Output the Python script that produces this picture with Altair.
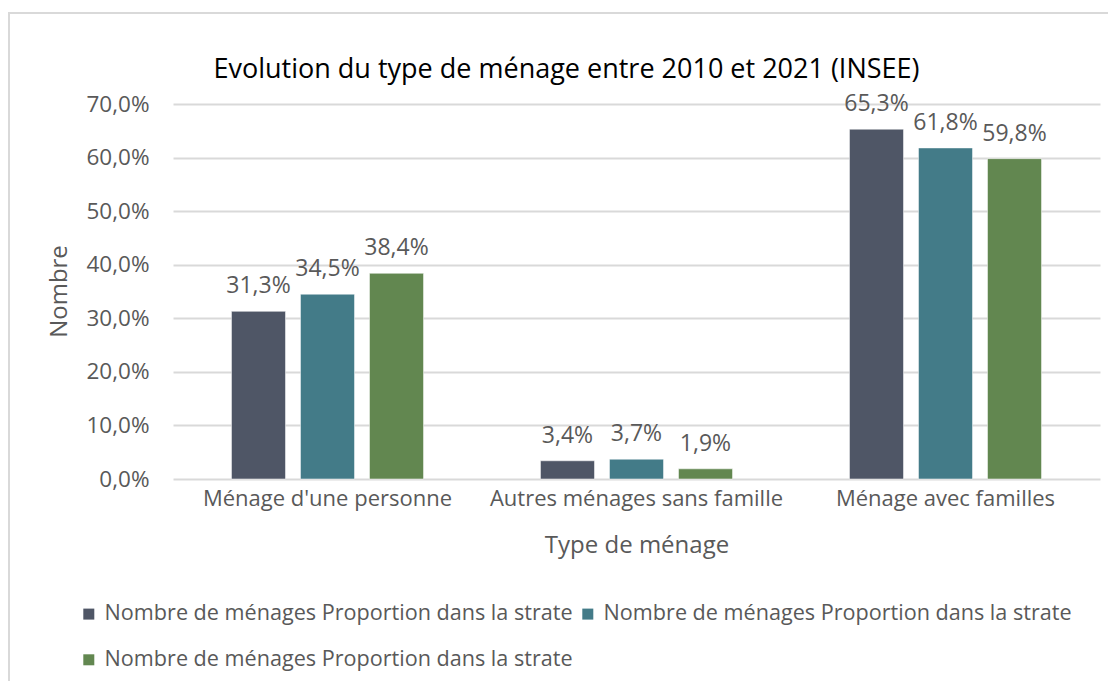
import json
import altair as alt
import pandas as pd

categories = ["Ménage d'une personne", "Autres ménages sans famille", "Ménage avec familles"]
series_ids = ["s1", "s2", "s3"]
series_labels = [
    "Nombre de ménages Proportion dans la strate",
    "Nombre de ménages Proportion dans la strate",
    "Nombre de ménages Proportion dans la strate",
]
values_s1 = [0.313, 0.034, 0.653]
values_s2 = [0.345, 0.037, 0.618]
values_s3 = [0.384, 0.019, 0.598]
colors = ["#4f5666", "#437b88", "#628750"]

rows = []
for sid, vals in zip(series_ids, [values_s1, values_s2, values_s3]):
    for cat, v in zip(categories, vals):
        rows.append({"cat": cat, "serie": sid, "value": v})
df = pd.DataFrame(rows)

FONT = "Open Sans"
label_map = json.dumps(dict(zip(series_ids, series_labels)), ensure_ascii=False)

x_enc = alt.X(
    "cat:N",
    sort=categories,
    scale=alt.Scale(paddingInner=0.33, paddingOuter=0.165),
    axis=alt.Axis(
        title="Type de ménage",
        labelAngle=0,
        labelFontSize=22,
        labelColor="#595959",
        labelPadding=9,
        labelLimit=400,
        titleFontSize=24,
        titleFontWeight="normal",
        titleColor="#595959",
        titleY=66,
        titleBaseline="middle",
        domain=False,
        ticks=False,
        grid=False,
    ),
)
xoff_enc = alt.XOffset(
    "serie:N", sort=series_ids, scale=alt.Scale(paddingInner=0.217, paddingOuter=0.1085)
)

base = alt.Chart(df)

bars = base.mark_bar(stroke="white", strokeWidth=1, strokeOpacity=0.5).encode(
    x=x_enc,
    xOffset=xoff_enc,
    y=alt.Y(
        "value:Q",
        scale=alt.Scale(domain=[0, 0.7], nice=False),
        axis=alt.Axis(
            title="Nombre",
            values=[0, 0.1, 0.2, 0.3, 0.4, 0.5, 0.6, 0.7],
            labelExpr="replace(format(datum.value, '.1%'), '.', ',')",
            labelFontSize=22.5,
            labelColor="#595959",
            labelPadding=24,
            titleFontSize=24,
            titleFontWeight="normal",
            titleColor="#595959",
            titleX=-102,
            titleY=187,
            domain=False,
            ticks=False,
            grid=True,
            gridColor="#d9d9d9",
            gridWidth=2,
        ),
    ),
    color=alt.Color(
        "serie:N",
        sort=series_ids,
        scale=alt.Scale(domain=series_ids, range=colors),
        legend=alt.Legend(
            title=None,
            orient="none",
            legendX=-95,
            legendY=499,
            direction="horizontal",
            columns=2,
            symbolType="square",
            symbolSize=121,
            symbolStrokeWidth=0,
            labelFontSize=21.6,
            labelColor="#595959",
            labelLimit=600,
            labelOffset=5,
            columnPadding=4,
            rowPadding=23,
            labelExpr=f"{label_map}[datum.value]",
        ),
    ),
)

texts = base.mark_text(
    baseline="bottom", dy=-13, fontSize=23, color="#595959", font=FONT
).transform_calculate(
    lab="replace(format(datum.value, '.1%'), '.', ',')"
).encode(
    x=alt.X("cat:N", sort=categories),
    xOffset=alt.XOffset("serie:N", sort=series_ids),
    y=alt.Y("value:Q"),
    text="lab:N",
)

frame = alt.Chart(pd.DataFrame({"f": [0]})).mark_rect(
    fill=None, stroke="#d9d9d9", strokeWidth=2
).encode(
    x=alt.value(-164), x2=alt.value(1000), y=alt.value(-91), y2=alt.value(700)
)

chart = (
    alt.layer(frame, bars, texts)
    .properties(
        width=927,
        height=375,
        padding={"left": 165, "top": 96, "right": 8, "bottom": 202},
        autosize=alt.AutoSizeParams(type="none"),
        title=alt.TitleParams(
            "Evolution du type de ménage entre 2010 et 2021 (INSEE)",
            fontSize=27,
            fontWeight="normal",
            color="#000000",
            font=FONT,
            anchor="middle",
            dx=-70,
            offset=-72,
        ),
    )
    .configure(font=FONT)
    .configure_view(stroke=None)
)

chart.save("out.html", embed_options={"renderer": "svg", "actions": False})
